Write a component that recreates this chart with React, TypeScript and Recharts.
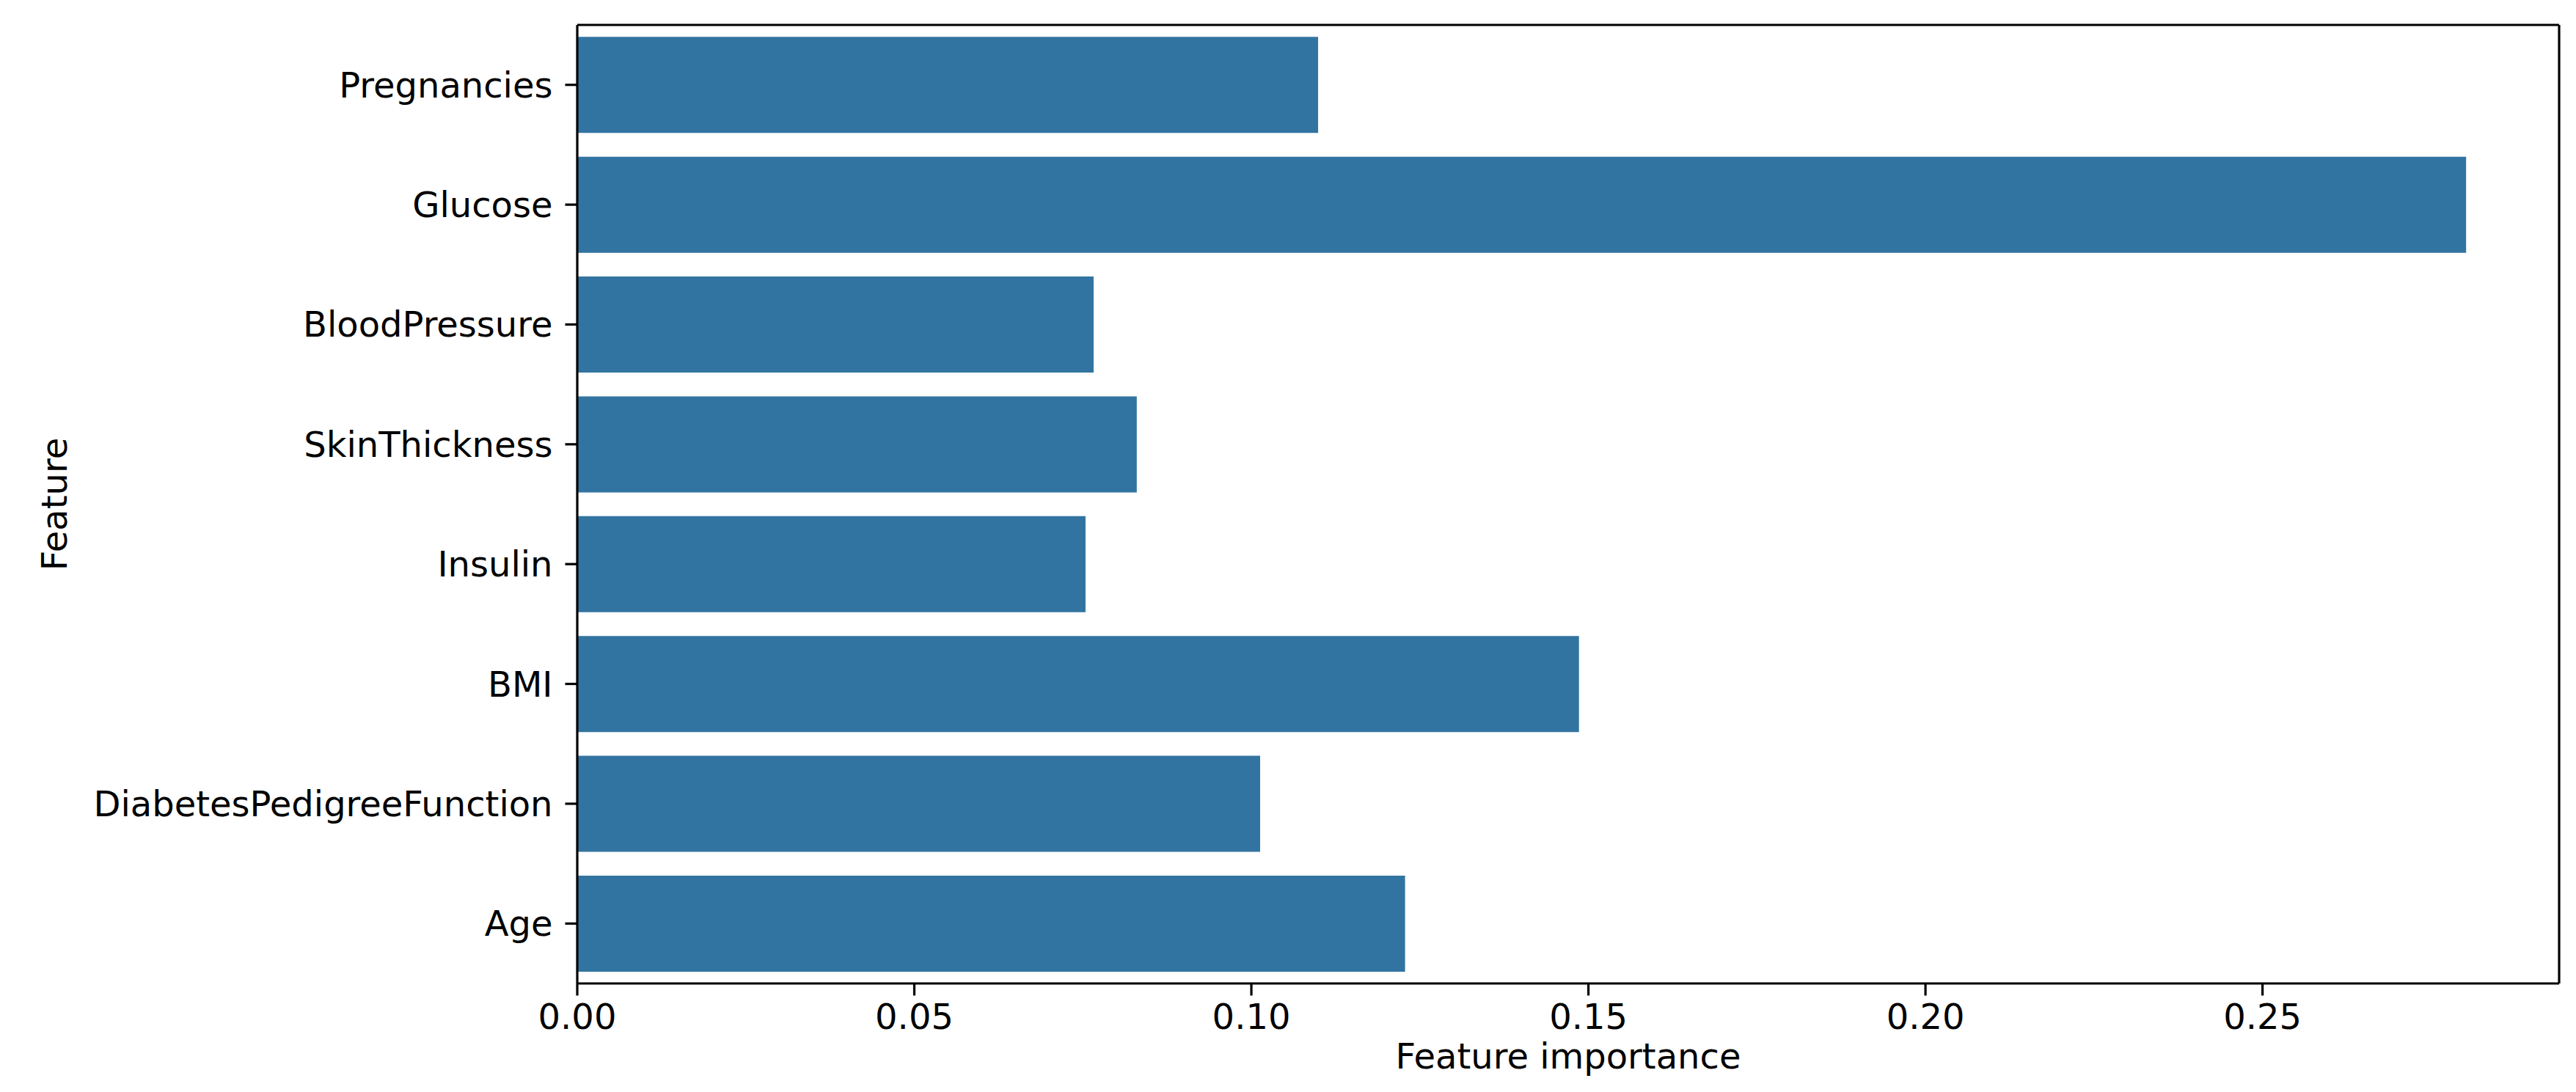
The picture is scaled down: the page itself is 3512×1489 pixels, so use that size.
import { BarChart, Bar, XAxis, YAxis, ReferenceLine } from "recharts"

const features = [
  "Pregnancies",
  "Glucose",
  "BloodPressure",
  "SkinThickness",
  "Insulin",
  "BMI",
  "DiabetesPedigreeFunction",
  "Age"
]
const importances = [0.1099, 0.2802, 0.0766, 0.083, 0.0754, 0.1486, 0.1013, 0.1228]
const xTicks = [0, 0.05, 0.1, 0.15, 0.2, 0.25]
const xMax = 0.294

const FONT = "'DejaVu Sans', sans-serif"
const FS = 48
const LW = 3.2
const BAR_COLOR = "#3274a1"

const data = features.map((feature, i) => ({ feature, importance: importances[i] }))

function FeatureLabel({ viewBox }: any) {
  const x = viewBox.x + 74
  const y = viewBox.y + viewBox.height / 2
  return (
    <text
      x={x}
      y={y}
      transform={`rotate(-90 ${x} ${y})`}
      textAnchor="middle"
      dominantBaseline="central"
      fontFamily={FONT}
      fontSize={FS}
      fill="#000"
    >
      Feature
    </text>
  )
}

export default function App() {
  const tickStyle = { fontFamily: FONT, fontSize: FS, fill: "#000" }
  const lineStyle = { stroke: "#000", strokeWidth: LW }
  return (
    <div style={{ position: "absolute", left: 0, top: 0, background: "#fff" }}>
      <BarChart
        width={3512}
        height={1489}
        data={data}
        layout="vertical"
        barCategoryGap="10%"
        margin={{ top: 34, right: 23, bottom: 0, left: 0 }}
      >
        <XAxis
          type="number"
          domain={[0, xMax]}
          ticks={xTicks}
          allowDataOverflow
          height={148}
          tick={tickStyle}
          tickSize={16.5}
          tickMargin={11}
          tickLine={lineStyle}
          axisLine={lineStyle}
          tickFormatter={(v: number) => v.toFixed(2)}
          label={{
            value: "Feature importance",
            position: "insideBottom",
            offset: 32,
            style: { fontFamily: FONT, fontSize: FS, fill: "#000" }
          }}
        />
        <YAxis
          type="category"
          dataKey="feature"
          width={787}
          interval={0}
          tick={tickStyle}
          tickSize={16.5}
          tickMargin={17}
          tickLine={lineStyle}
          axisLine={lineStyle}
          label={<FeatureLabel />}
        />
        {/* top and right spines */}
        <ReferenceLine
          y={features[0]}
          position="start"
          stroke="#000"
          strokeWidth={LW}
          ifOverflow="visible"
        />
        <ReferenceLine x={xMax} stroke="#000" strokeWidth={LW} ifOverflow="visible" />
        <Bar dataKey="importance" fill={BAR_COLOR} isAnimationActive={false} />
      </BarChart>
    </div>
  )
}
